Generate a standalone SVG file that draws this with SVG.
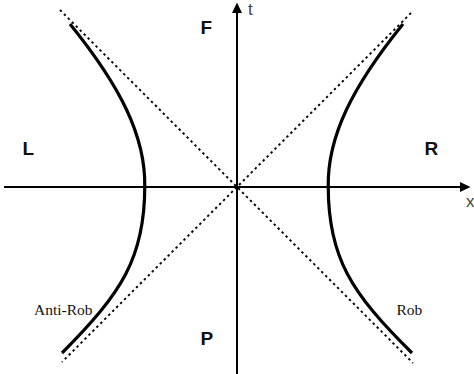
<svg xmlns="http://www.w3.org/2000/svg" width="474" height="374" viewBox="0 0 474 374">
<style>
.axis{stroke:#000;stroke-width:2;fill:none}
.cone{stroke:#000;stroke-width:1.9;stroke-dasharray:2.4 3.2;fill:none}
.world{stroke:#000;stroke-width:3.2;fill:none;stroke-linecap:butt}
.region{font-family:"Liberation Sans",Arial,sans-serif;font-weight:bold;font-size:19px;fill:#111}
.axlabel{font-family:"Liberation Sans",Arial,sans-serif;font-size:17px;fill:#444}
.name{font-family:"Liberation Serif","Times New Roman",serif;font-size:15.5px;fill:#111}
</style>
<rect width="474" height="374" fill="#fff"/>
<g id="connectors">
<line class="cone" x1="60" y1="10" x2="413" y2="363"/>
<line class="cone" x1="411" y1="13" x2="62" y2="362"/>
<line class="axis" x1="4" y1="187" x2="462" y2="187"/>
<polygon points="470.5,187 460,182 460,192" fill="#000"/>
<line class="axis" x1="237" y1="374" x2="237" y2="11"/>
<polygon points="237,2.5 232,13 242,13" fill="#000"/>
</g>
<g id="anti-rob-curve">
<path class="world" d="M70,24 C120.5,86.5 145.75,136.5 144.75,187 C144.75,257 122,293 62,353"/>
</g>
<g id="rob-curve">
<path class="world" d="M403,24 C352.5,86.5 327.25,136.5 328.25,187 C328.25,257 351,293 412,353"/>
</g>
<g id="label-F"><text class="region" x="200.5" y="34">F</text></g>
<g id="label-P"><text class="region" x="200.5" y="345">P</text></g>
<g id="label-L"><text class="region" x="22.5" y="155">L</text></g>
<g id="label-R"><text class="region" x="424.5" y="155">R</text></g>
<g id="label-t"><text class="axlabel" x="248" y="15">t</text></g>
<g id="label-x"><text class="axlabel" x="466" y="207">x</text></g>
<g id="label-antirob"><text class="name" x="34" y="315">Anti-Rob</text></g>
<g id="label-rob"><text class="name" x="396.5" y="315">Rob</text></g>
</svg>
